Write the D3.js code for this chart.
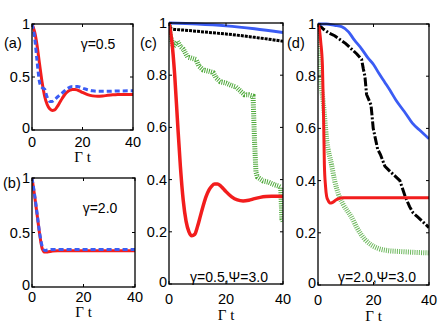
<!DOCTYPE html>
<html>
<head>
<meta charset="utf-8">
<script src="https://cdn.jsdelivr.net/npm/d3@7"></script>
<style>
  body { margin: 0; background: #fff; }
  svg text { font-family: "Liberation Sans", Arial, sans-serif; fill: #000; }
  .serif { font-family: "Liberation Serif", "Times New Roman", serif; }
</style>
</head>
<body>
<div id="chart"></div>
<script>
// ---- data ----
// (a) gamma = 0.5
var tRedA = [0,1,2,3,4,5,6,7,8,9,10,11,12,13,14,15,16,17,18,19,20,22,24,26,28,30,32,34,36,38,40];
var redA  = [1,0.93,0.8,0.62,0.45,0.32,0.24,0.2,0.185,0.19,0.22,0.26,0.3,0.335,0.36,0.375,0.383,0.383,0.377,0.366,0.354,0.334,0.322,0.318,0.321,0.327,0.332,0.335,0.336,0.336,0.335];
var tBlueA = [0,1,2,3,4,5,6,7,8,9,10,12,14,16,18,20,22,24,26,28,30,34,40];
var blueA  = [1,0.88,0.65,0.45,0.4,0.385,0.31,0.27,0.27,0.285,0.31,0.35,0.39,0.41,0.41,0.395,0.38,0.37,0.365,0.365,0.365,0.368,0.37];

// (b) gamma = 2.0
var tB    = [0,1,2,3,4,5,6,8,10,15,20,30,40];
var redB  = [1,0.84,0.66,0.48,0.35,0.32,0.322,0.33,0.333,0.333,0.333,0.333,0.333];
var blueB = [1,0.85,0.67,0.49,0.37,0.335,0.34,0.345,0.345,0.345,0.345,0.345,0.345];

// (c) gamma = 0.5, Psi = 3.0
var tBlueC = [0,10,20,30,40];
var blueC  = [1,0.996,0.989,0.978,0.964];
var tBlackC = [0,0.5,1,5,10,15,20,25,30,35,40];
var blackC  = [1,0.985,0.977,0.973,0.968,0.963,0.958,0.952,0.945,0.938,0.93];
var tGreenC = [0,0.5,1.5,3,4,5,6.5,8,9.5,10.5,12,14,15.5,16.5,18,20,22,23.5,25,26.5,28,29.5,30,30.5,31,33,35,37,38.5,39.2,39.6,40];
var greenC  = [1,0.95,0.91,0.93,0.91,0.9,0.87,0.865,0.86,0.835,0.82,0.815,0.81,0.79,0.775,0.77,0.76,0.755,0.74,0.725,0.725,0.72,0.55,0.43,0.41,0.395,0.39,0.38,0.375,0.37,0.25,0.24];

// (d) gamma = 2.0, Psi = 3.0
var tRedD = [0,0.5,1,1.6,2,2.3,2.7,3.1,3.6,4.3,5,6,6.6,7.5,9,12,20,40];
var redD  = [1,0.98,0.93,0.84,0.65,0.46,0.38,0.34,0.325,0.314,0.315,0.322,0.327,0.331,0.334,0.334,0.334,0.334];
var tBlueD = [0,3,6,8.5,11,13,15.7,18,20,22,24.1,26,28,30,31.4,34,37,40];
var blueD  = [1,1,0.995,0.99,0.97,0.94,0.905,0.87,0.845,0.81,0.776,0.745,0.71,0.68,0.66,0.62,0.59,0.56];
var tBlackD = [0,2,4,6,8,10,12,14,15.7,16.3,16.9,17.5,18.3,19.1,19.9,20.7,21.5,22.5,24.1,25.5,27.5,29.5,31.4,33,34.3,36,38,40];
var blackD  = [1,0.98,0.965,0.955,0.94,0.925,0.905,0.885,0.865,0.83,0.8,0.73,0.71,0.69,0.6,0.56,0.52,0.5,0.455,0.44,0.42,0.4,0.34,0.3,0.276,0.26,0.24,0.22];
var tGreenD = [0,0.5,1,1.9,3.1,4.9,6,7.3,9,10.5,12.1,14,16.9,19,21.7,25,30,35,40];
var greenD  = [1,0.85,0.78,0.7,0.56,0.46,0.4,0.35,0.31,0.285,0.26,0.22,0.175,0.155,0.14,0.132,0.128,0.125,0.123];

var xTicks = [0, 20, 40];
var yTicksSmall = [0, 0.5, 1];
var yTicksBig = [0, 0.2, 0.4, 0.6, 0.8, 1];

var RED = "#f21d1d", BLUE = "#3b5cf4", GREEN = "#2f9a18";

var width = 443, height = 334;
var svg = d3.select("#chart").append("svg")
    .attr("width", width).attr("height", height);

function zip(ts, vs) { return ts.map(function(t, i) { return [t, vs[i]]; }); }

function drawPanel(p) {
    var x = d3.scaleLinear().domain([0, 40]).range([p.left, p.right]);
    var y = d3.scaleLinear().domain([0, 1]).range([p.bottom, p.top]);
    var g = svg.append("g");

    var clipId = "clip-" + p.name;
    g.append("clipPath").attr("id", clipId).append("rect")
        .attr("x", p.left).attr("y", p.top - 2)
        .attr("width", p.right - p.left).attr("height", p.bottom - p.top + 2);

    var lines = g.append("g").attr("clip-path", "url(#" + clipId + ")");
    p.series.forEach(function(s) {
        var line = d3.line()
            .x(function(d) { return x(d[0]); })
            .y(function(d) { return y(d[1]); })
            .curve(s.curve || d3.curveMonotoneX);
        lines.append("path")
            .attr("d", line(zip(s.t, s.v)))
            .attr("fill", "none")
            .attr("stroke", s.color)
            .attr("stroke-width", s.width || 3)
            .attr("stroke-dasharray", s.dash || null)
            .attr("stroke-opacity", s.opacity || 1);
    });

    // box
    g.append("rect")
        .attr("x", p.left).attr("y", p.top)
        .attr("width", p.right - p.left).attr("height", p.bottom - p.top)
        .attr("fill", "none").attr("stroke", "#000").attr("stroke-width", 1.3);

    // inner ticks on all sides
    var tl = 3;
    xTicks.forEach(function(t) {
        g.append("line").attr("x1", x(t)).attr("x2", x(t))
            .attr("y1", p.bottom).attr("y2", p.bottom - tl).attr("stroke", "#000");
        g.append("line").attr("x1", x(t)).attr("x2", x(t))
            .attr("y1", p.top).attr("y2", p.top + tl).attr("stroke", "#000");
        g.append("text").attr("x", x(t)).attr("y", p.bottom + p.xlabOff)
            .attr("text-anchor", "middle").attr("dominant-baseline", "central")
            .attr("font-size", 14.5).text(t);
    });
    p.yTicks.forEach(function(v) {
        g.append("line").attr("x1", p.left).attr("x2", p.left + tl)
            .attr("y1", y(v)).attr("y2", y(v)).attr("stroke", "#000");
        g.append("line").attr("x1", p.right).attr("x2", p.right - tl)
            .attr("y1", y(v)).attr("y2", y(v)).attr("stroke", "#000");
        g.append("text").attr("x", p.left - 2).attr("y", y(v) + (v === 0 ? -2 : 0))
            .attr("text-anchor", "end").attr("dominant-baseline", "central")
            .attr("font-size", 14.5).text(v);
    });

    g.append("text").attr("class", "serif")
        .attr("x", (p.left + p.right) / 2).attr("y", p.bottom + p.gtOff)
        .attr("text-anchor", "middle").attr("dominant-baseline", "central")
        .attr("font-size", 15).text("\u0393 t");

    g.append("text").attr("x", p.tagX).attr("y", p.tagY)
        .attr("dominant-baseline", "central").attr("font-size", 14.5).text(p.tag);

    g.append("text").attr("x", p.noteX).attr("y", p.noteY)
        .attr("text-anchor", "middle").attr("dominant-baseline", "central")
        .attr("font-size", p.noteSize).text(p.note);
}

drawPanel({
    name: "a", left: 32, right: 133, top: 24, bottom: 130,
    yTicks: yTicksSmall, xlabOff: 12, gtOff: 27,
    tag: "(a)", tagX: 4, tagY: 43,
    note: "\u03b3=0.5", noteX: 98, noteY: 44, noteSize: 14,
    series: [
        { t: tRedA, v: redA, color: RED, width: 3 },
        { t: tBlueA, v: blueA, color: BLUE, width: 3, dash: "5,3" }
    ]
});

drawPanel({
    name: "b", left: 32, right: 135, top: 178, bottom: 287,
    yTicks: yTicksSmall, xlabOff: 10, gtOff: 25,
    tag: "(b)", tagX: 3, tagY: 183,
    note: "\u03b3=2.0", noteX: 100, noteY: 208, noteSize: 14,
    series: [
        { t: tB, v: redB, color: RED, width: 3 },
        { t: tB, v: blueB, color: BLUE, width: 3, dash: "5,3" }
    ]
});

drawPanel({
    name: "c", left: 169, right: 283, top: 23, bottom: 284,
    yTicks: yTicksBig, xlabOff: 15, gtOff: 31,
    tag: "(c)", tagX: 140, tagY: 43,
    note: "\u03b3=0.5,\u03a8=3.0", noteX: 229, noteY: 277, noteSize: 14,
    series: [
        { t: tGreenC, v: greenC, color: GREEN, width: 5, dash: "1,1.2", opacity: 0.85, curve: d3.curveLinear },
        { t: tBlackC, v: blackC, color: "#000", width: 3, dash: "3,1" },
        { t: tBlueC, v: blueC, color: BLUE, width: 3 },
        { t: tRedA, v: redA, color: RED, width: 3.5 }
    ]
});

drawPanel({
    name: "d", left: 318, right: 429, top: 24, bottom: 285,
    yTicks: yTicksBig, xlabOff: 15, gtOff: 31,
    tag: "(d)", tagX: 287, tagY: 43,
    note: "\u03b3=2.0,\u03a8=3.0", noteX: 377, noteY: 277, noteSize: 14,
    series: [
        { t: tGreenD, v: greenD, color: GREEN, width: 5, dash: "1,1.2", opacity: 0.7 },
        { t: tBlackD, v: blackD, color: "#000", width: 3, dash: "9,2,2,2", curve: d3.curveLinear },
        { t: tBlueD, v: blueD, color: BLUE, width: 2.8 },
        { t: tRedD, v: redD, color: RED, width: 3 }
    ]
});
</script>
</body>
</html>
